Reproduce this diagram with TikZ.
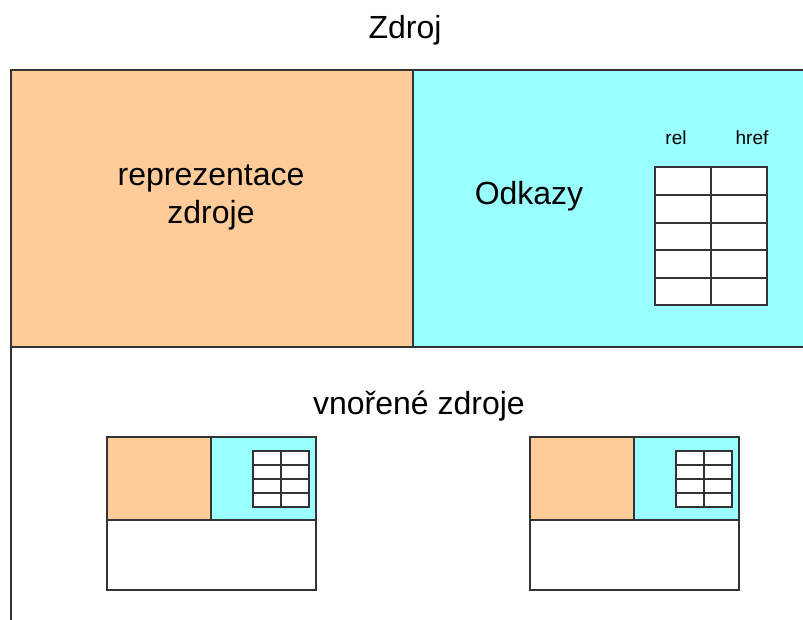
\documentclass[tikz,border=0pt]{standalone}
\usepackage{fontspec}
\setmainfont{Liberation Sans}
\definecolor{repfill}{HTML}{FFCC99}
\definecolor{linkfill}{HTML}{99FFFF}
\definecolor{edge}{HTML}{333333}
\tikzset{
  frame/.style={draw=edge, line width=1.4pt},
  grid/.style={draw=edge, line width=1.2pt, fill=white},
  label/.style={inner sep=0pt, text=black},
  big/.style={font=\fontsize{32}{38}\selectfont},
  small/.style={font=\fontsize{19}{22}\selectfont},
}
\begin{document}
\begin{tikzpicture}[x=1pt, y=-1pt]
\useasboundingbox (0,0) rectangle (803,619);
\begin{scope}
\clip (0,0) rectangle (803,619);
% outer resource: representation and links
\fill[repfill] (11,70) rectangle (413,347);
\fill[linkfill] (413,70) rectangle (810,347);
\draw[frame] (11,630) -- (11,70) -- (810,70);
\draw[frame] (11,347) -- (810,347);
\draw[frame] (413,70) -- (413,347);
\end{scope}
% link table
\draw[grid] (655,167) rectangle (767,305);
\foreach \y in {195,223,250,278} \draw[grid] (655,\y) -- (767,\y);
\draw[grid] (711,167) -- (711,305);
% texts
\node[label, big] (title) at (405,30) {Zdroj};
\node[label, big, align=center] (rep) at (211,197) {reprezentace\\zdroje};
\node[label, big] (links) at (529,196) {Odkazy};
\node[label, small] (rel) at (676,138) {rel};
\node[label, small] (href) at (752,138) {href};
\node[label, big] (embedded) at (419,406) {vnořené zdroje};
% embedded resources
\foreach \ox in {107,530} {
  \fill[repfill] (\ox,437) rectangle (\ox+104,520);
  \fill[linkfill] (\ox+104,437) rectangle (\ox+209,520);
  \draw[frame] (\ox,437) rectangle (\ox+209,590);
  \draw[frame] (\ox,520) -- (\ox+209,520);
  \draw[frame] (\ox+104,437) -- (\ox+104,520);
  \draw[grid] (\ox+146,451) rectangle (\ox+202,507);
  \foreach \y in {465,479,493} \draw[grid] (\ox+146,\y) -- (\ox+202,\y);
  \draw[grid] (\ox+174,451) -- (\ox+174,507);
}
\end{tikzpicture}
\end{document}
